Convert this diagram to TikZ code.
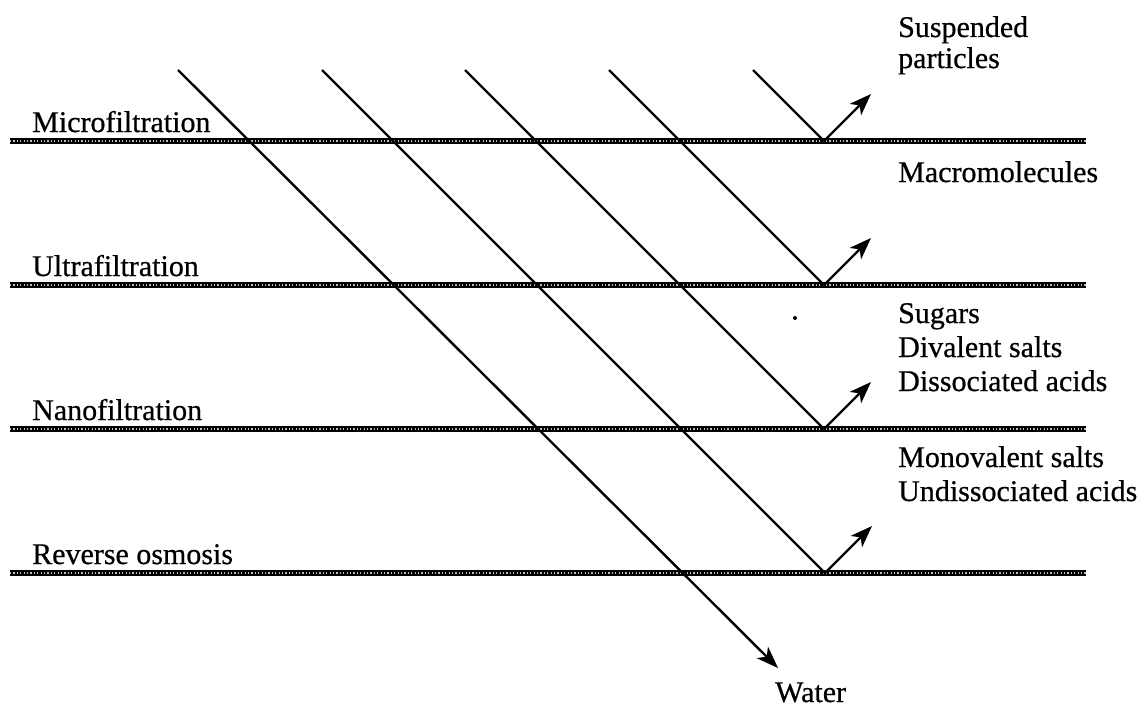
\documentclass[tikz,border=0pt]{standalone}
\usepackage{fontspec}
\setmainfont{Liberation Serif}
\newfontfamily\printfont[FakeBold=0.6]{Liberation Serif}
\usetikzlibrary{arrows.meta}
\begin{document}
\begin{tikzpicture}[x=1pt,y=-1pt,
  lbl/.style={anchor=base west, inner sep=0pt, font=\printfont\fontsize{30}{34}\selectfont},
  membrane/.style={line width=6pt},
  pores/.style={white!75!black, line width=1.1pt, dash pattern=on 1.2pt off 2.2pt},
  flow/.style={line width=2.4pt},
  tip/.style={-{Stealth[length=22pt,width=16pt,inset=6pt]}}
]
\useasboundingbox (0,0) rectangle (1148,709);
\fill[white] (0,0) rectangle (1148,709);

% membranes (chain-like bands)
\foreach \yy/\n in {141/mf,285/uf,429/nf,573/ro}{
  \coordinate (\n-l) at (10,\yy);
  \coordinate (\n-r) at (1086,\yy);
  \draw[membrane] (\n-l) -- (\n-r);
  \draw[pores] (\n-l) -- (\n-r);
}

% membrane names
\node[lbl] (mf-name) at (32,132) {Microfiltration};
\node[lbl] (uf-name) at (32,276) {Ultrafiltration};
\node[lbl] (nf-name) at (32,420) {Nanofiltration};
\node[lbl] (ro-name) at (32,564) {Reverse osmosis};

% feed streams
\coordinate (s0) at (178,70);
\coordinate (s1) at (322,70);
\coordinate (s2) at (465,70);
\coordinate (s3) at (609,70);
\coordinate (s4) at (753,70);

% points of rejection on the membranes
\coordinate (v1) at (825,573);
\coordinate (v2) at (824,429);
\coordinate (v3) at (824,285);
\coordinate (v4) at (824,141);

% ends of the rejected streams
\coordinate (r1) at (872,526);
\coordinate (r2) at (871,382);
\coordinate (r3) at (871,238);
\coordinate (r4) at (871,94);

\coordinate (w) at (778,668);

% water passes all membranes
\draw[flow,tip] (s0) -- (w);

% rejected species
\draw[flow] (s1) -- (v1);
\draw[flow,tip] (v1) -- (r1);
\draw[flow] (s2) -- (v2);
\draw[flow,tip] (v2) -- (r2);
\draw[flow] (s3) -- (v3);
\draw[flow,tip] (v3) -- (r3);
\draw[flow] (s4) -- (v4);
\draw[flow,tip] (v4) -- (r4);

% retained species
\node[lbl] (sp1) at (898,37) {Suspended};
\node[lbl] (sp2) at (898,68) {particles};
\node[lbl] (mm) at (898,182) {Macromolecules};
\node[lbl] (sg) at (898,323) {Sugars};
\node[lbl] (ds) at (898,357) {Divalent salts};
\node[lbl] (da) at (898,391) {Dissociated acids};
\node[lbl] (ms) at (898,467) {Monovalent salts};
\node[lbl] (ua) at (898,501) {Undissociated acids};
\node[lbl] (water) at (775,702) {Water};

\fill (795,318) circle (2pt);
\end{tikzpicture}
\end{document}
